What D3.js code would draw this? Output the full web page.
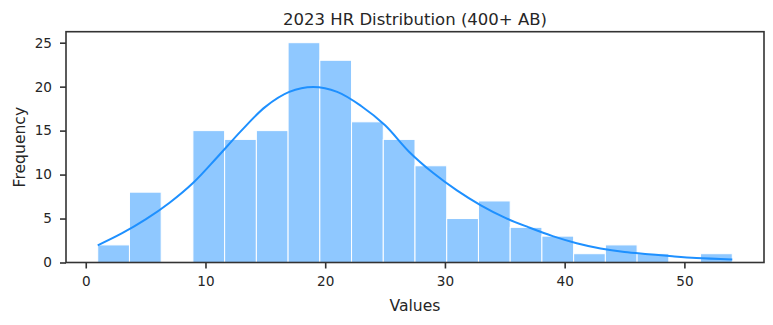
<!DOCTYPE html>
<html>
<head>
<meta charset="utf-8">
<script src="https://cdn.jsdelivr.net/npm/d3@7"></script>
<style>
  body { margin: 0; background: #fff; }
  text { font-family: "DejaVu Sans", sans-serif; fill: #262626; }
</style>
</head>
<body>
<script>
// histogram of home runs, 20 bins between min and max
var hrMin = 1, hrMax = 54, binCount = 20;
var counts = [2, 8, 0, 15, 14, 15, 25, 23, 16, 14, 11, 5, 7, 4, 3, 1, 2, 1, 0, 1];

// kde curve (scaled to counts)
var kdeX = [1, 3, 5, 7, 9, 11, 13, 15, 17, 19, 21, 23, 25, 27, 29, 31, 33, 35, 37, 39, 41, 43, 45, 47, 49, 51, 54];
var kdeY = [1.95, 3.3, 4.9, 6.8, 9.1, 12.0, 15.0, 17.7, 19.4, 19.95, 19.4, 17.8, 15.6, 12.6, 10.2, 8.2, 6.5, 5.1, 4.0, 3.0, 2.2, 1.6, 1.2, 0.95, 0.7, 0.5, 0.35];

var xTicks = [0, 10, 20, 30, 40, 50];
var yTicks = [0, 5, 10, 15, 20, 25];

var W = 773, H = 325;
var mLeft = 66, mRight = 764, mTop = 31.7, mBottom = 262.5;

var svg = d3.select('body').append('svg').attr('width', W).attr('height', H);

var pad = (hrMax - hrMin) * 0.05;
var x = d3.scaleLinear().domain([hrMin - pad, hrMax + pad]).range([mLeft, mRight]);
var y = d3.scaleLinear().domain([0, d3.max(counts) * 1.05]).range([mBottom, mTop]);

var binW = (hrMax - hrMin) / binCount;
var bins = counts.map((c, i) => ({x0: hrMin + i*binW, x1: hrMin + (i+1)*binW, n: c}));

svg.append('g').selectAll('rect')
    .data(bins.filter(d => d.n > 0))
    .enter()
    .append('rect')
        .attr('x', d => x(d.x0))
        .attr('y', d => y(d.n))
        .attr('width', d => x(d.x1) - x(d.x0))
        .attr('height', d => y(0) - y(d.n))
        .attr('fill', 'rgb(143,200,255)')
        .attr('stroke', '#fff')
        .attr('stroke-width', 1);

var line = d3.line()
    .x((d, i) => x(kdeX[i]))
    .y(d => y(d))
    .curve(d3.curveCatmullRom);

svg.append('path')
    .attr('fill', 'none')
    .attr('stroke', '#1e90ff')
    .attr('stroke-width', 2)
    .attr('d', line(kdeY));

// frame
svg.append('rect')
    .attr('x', mLeft).attr('y', mTop)
    .attr('width', mRight - mLeft).attr('height', mBottom - mTop)
    .attr('fill', 'none').attr('stroke', '#333').attr('stroke-width', 1.6);

var xAxis = svg.append('g')
    .attr('transform', 'translate(0,' + mBottom + ')')
    .call(d3.axisBottom(x).tickValues(xTicks).tickSize(6).tickPadding(7.5).tickSizeOuter(0));
var yAxis = svg.append('g')
    .attr('transform', 'translate(' + mLeft + ',0)')
    .call(d3.axisLeft(y).tickValues(yTicks).tickSize(6).tickPadding(8).tickSizeOuter(0));

[xAxis, yAxis].forEach(g => {
    g.select('.domain').remove();
    g.selectAll('line').attr('stroke', '#333').attr('stroke-width', 1.6);
    g.selectAll('text').attr('font-size', 13.6).attr('font-family', '"DejaVu Sans", sans-serif').attr('fill', '#262626');
});

svg.append('text')
    .attr('x', (mLeft + mRight) / 2).attr('y', 25)
    .attr('text-anchor', 'middle').attr('font-size', 16.5)
    .text('2023 HR Distribution (400+ AB)');

svg.append('text')
    .attr('x', (mLeft + mRight) / 2).attr('y', 311)
    .attr('text-anchor', 'middle').attr('font-size', 15.6)
    .text('Values');

svg.append('text')
    .attr('transform', 'translate(24.5,' + (mTop + mBottom) / 2 + ') rotate(-90)')
    .attr('text-anchor', 'middle').attr('font-size', 15.6)
    .text('Frequency');
</script>
</body>
</html>
